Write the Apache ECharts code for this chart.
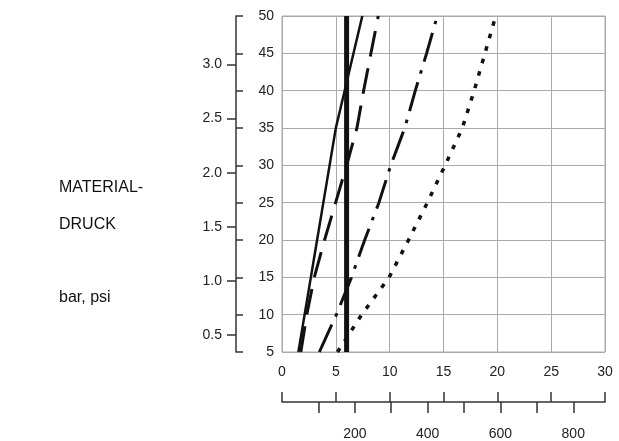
<!DOCTYPE html>
<html>
<head>
<meta charset="utf-8">
<script src="https://cdn.jsdelivr.net/npm/echarts@6/dist/echarts.min.js"></script>
<style>
  html, body { margin: 0; padding: 0; background: #ffffff; }
  #chart { width: 619px; height: 441px; }
</style>
</head>
<body>
<div id="chart"></div>
<script>
// Material pressure (psi) levels at which each curve is read
const psiLevels = [5, 10, 15, 20, 25, 30, 35, 40, 45, 50];

// Flow (fl oz/min) for each curve at the pressure levels above
const flowSolid   = [1.52, 2.10, 2.68, 3.26, 3.84, 4.42, 5.00, 5.82, 6.64, 7.46];
const flowDashed  = [1.75, 2.30, 3.00, 3.95, 4.98, 6.00, 6.96, 7.58, 8.26, 8.94];
const flowDashDot = [3.47, 5.05, 6.45, 7.68, 9.00, 10.10, 11.40, 12.38, 13.43, 14.42];
const flowDotted  = [5.15, 7.40, 9.95, 11.75, 13.50, 15.15, 16.75, 17.85, 18.85, 19.85];
// Vertical reference line (constant flow)
const flowRefPsi  = [5, 50];
const flowRef     = [6.0, 6.0];

// Secondary scale ticks
const barTicks   = [0.5, 1.0, 1.5, 2.0, 2.5, 3.0];
const mlMinor    = [100, 200, 300, 400, 500, 600, 700, 800];
const mlLabels   = [200, 400, 600, 800];

const PSI_PER_BAR = 14.5038;
const ML_PER_OZ = 29.5735;
const FLOW_MAX = 30;
const PSI_MIN = 5, PSI_MAX = 50;

const pairs = (xs, ys) => xs.map((x, i) => [x, ys[i]]);

const ink = '#111111';
const gridGray = '#a9a9a9';
const font = { fontFamily: 'Liberation Sans, Arial, Helvetica, sans-serif', fontSize: 14, color: '#222222' };
const titleFont = '16px Liberation Sans, Arial, sans-serif';

const chart = echarts.init(document.getElementById('chart'), null, { renderer: 'canvas' });

chart.setOption({
  animation: false,
  backgroundColor: '#ffffff',
  grid: {
    left: 282, right: 14, top: 16, bottom: 87,
    show: true, borderColor: gridGray, borderWidth: 1, backgroundColor: 'transparent'
  },
  xAxis: [
    {
      type: 'value', min: 0, max: FLOW_MAX, interval: 5,
      axisLine: { show: false }, axisTick: { show: false },
      splitLine: { show: true, lineStyle: { color: gridGray, width: 1 } },
      axisLabel: Object.assign({ margin: 13 }, font)
    },
    {
      type: 'value', min: 0, max: FLOW_MAX, interval: 5, position: 'bottom', offset: 50,
      axisLine: { show: true, onZero: false, lineStyle: { color: '#333333', width: 1.5 } },
      axisTick: { show: true, inside: true, length: 10, lineStyle: { color: '#333333', width: 1.5 } },
      axisLabel: { show: false }, splitLine: { show: false }
    },
    {
      type: 'value', min: 0, max: FLOW_MAX * ML_PER_OZ, position: 'bottom', offset: 50,
      axisLine: { show: false, onZero: false },
      axisTick: { show: true, inside: false, length: 11, customValues: mlMinor,
                  lineStyle: { color: '#333333', width: 1.5 } },
      axisLabel: Object.assign({ margin: 25, customValues: mlLabels }, font),
      splitLine: { show: false }
    }
  ],
  yAxis: [
    {
      type: 'value', min: PSI_MIN, max: PSI_MAX, interval: 5, position: 'left', offset: 46,
      axisLine: { show: true, onZero: false, lineStyle: { color: '#333333', width: 1.5 } },
      axisTick: { show: true, inside: true, length: 7, lineStyle: { color: '#333333', width: 1.5 } },
      axisLabel: Object.assign({ inside: true, align: 'right', margin: 38 }, font),
      splitLine: { show: true, lineStyle: { color: gridGray, width: 1 } }
    },
    {
      type: 'value', min: PSI_MIN / PSI_PER_BAR, max: PSI_MAX / PSI_PER_BAR, position: 'left', offset: 46,
      axisLine: { show: false, onZero: false },
      axisTick: { show: true, inside: false, length: 9, customValues: barTicks,
                  lineStyle: { color: '#333333', width: 1.5 } },
      axisLabel: Object.assign({ margin: 14, customValues: barTicks,
                                 formatter: v => Number(v).toFixed(1) }, font),
      splitLine: { show: false }
    }
  ],
  graphic: [
    { type: 'text', left: 59, top: 180, style: { text: 'MATERIAL-', font: titleFont, fill: ink } },
    { type: 'text', left: 59, top: 217, style: { text: 'DRUCK', font: titleFont, fill: ink } },
    { type: 'text', left: 59, top: 290, style: { text: 'bar, psi', font: titleFont, fill: ink } }
  ],
  series: [
    {
      name: 'solid', type: 'line', xAxisIndex: 0, yAxisIndex: 0, showSymbol: false, silent: true,
      data: pairs(flowSolid, psiLevels),
      lineStyle: { color: ink, width: 2.5, type: 'solid' }
    },
    {
      name: 'dashed', type: 'line', xAxisIndex: 0, yAxisIndex: 0, showSymbol: false, silent: true,
      data: pairs(flowDashed, psiLevels),
      lineStyle: { color: ink, width: 3, type: [26, 12] }
    },
    {
      name: 'dashdot', type: 'line', xAxisIndex: 0, yAxisIndex: 0, showSymbol: false, silent: true,
      data: pairs(flowDashDot, psiLevels),
      lineStyle: { color: ink, width: 3, type: [30, 9, 3.5, 9] }
    },
    {
      name: 'dotted', type: 'line', xAxisIndex: 0, yAxisIndex: 0, showSymbol: false, silent: true,
      data: pairs(flowDotted, psiLevels),
      lineStyle: { color: ink, width: 3.5, type: [4.5, 8.5] }
    },
    {
      name: 'reference', type: 'line', xAxisIndex: 0, yAxisIndex: 0, showSymbol: false, silent: true,
      data: pairs(flowRef, flowRefPsi),
      lineStyle: { color: ink, width: 5, type: 'solid' }
    }
  ]
});
</script>
</body>
</html>
